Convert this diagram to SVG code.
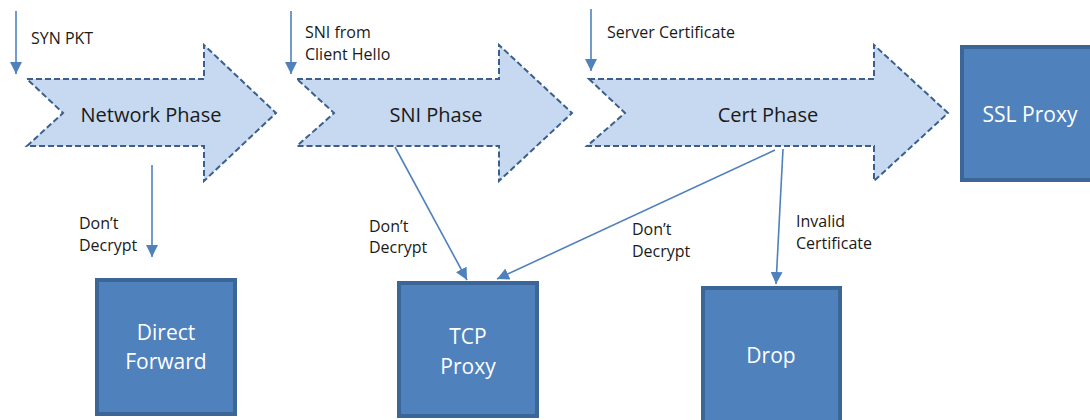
<svg xmlns="http://www.w3.org/2000/svg" width="1090" height="420" viewBox="0 0 1090 420">
<style>
.phase{fill:#C6D9F1;stroke:#3B5F8C;stroke-width:2;stroke-dasharray:6 3}
.box{fill:#4F81BD;stroke:#3D6698;stroke-width:4}
.pl{font-family:"Open Sans","Liberation Sans",sans-serif;font-size:20px;fill:#1a1a1a;text-anchor:middle}
.bl{font-family:"Open Sans","Liberation Sans",sans-serif;font-size:21px;fill:#ffffff;text-anchor:middle}
.lb{font-family:"Open Sans","Liberation Sans",sans-serif;font-size:16px;fill:#1a1a1a}
.c{stroke:#4F81BD;stroke-width:1.6;fill:none}
</style>
<defs>
<marker id="ah" viewBox="0 0 12 12" refX="12" refY="6" markerWidth="12" markerHeight="12" markerUnits="userSpaceOnUse" orient="auto">
<path d="M0,0 L12,6 L0,12 Z" fill="#4F81BD"/>
</marker>
</defs>
<rect width="1090" height="420" fill="#ffffff"/>
<g id="network-phase">
<path class="phase" d="M27,79 L204,79 L204,45 L276,113 L204,181 L204,146 L27,146 L63,113 Z"/>
<text class="pl" x="151" y="122">Network Phase</text>
</g>
<g id="sni-phase">
<path class="phase" d="M297,79 L499,79 L499,45 L572,113 L499,181 L499,146 L297,146 L334,113 Z"/>
<text class="pl" x="436" y="122">SNI Phase</text>
</g>
<g id="cert-phase">
<path class="phase" d="M589,79 L874,79 L874,45 L948,113 L874,181 L874,146 L587,146 L625,113 Z"/>
<text class="pl" x="768" y="122">Cert Phase</text>
</g>
<g id="ssl-proxy">
<rect class="box" x="962" y="47" width="140" height="133"/>
<text class="bl" x="1030" y="122">SSL Proxy</text>
</g>
<g id="direct-forward">
<rect class="box" x="97" y="280" width="138" height="134"/>
<text class="bl" x="166" y="340">Direct</text>
<text class="bl" x="166" y="369">Forward</text>
</g>
<g id="tcp-proxy">
<rect class="box" x="399" y="283" width="138" height="133"/>
<text class="bl" x="468" y="344">TCP</text>
<text class="bl" x="468" y="374">Proxy</text>
</g>
<g id="drop">
<rect class="box" x="703" y="288" width="137" height="134"/>
<text class="bl" x="771" y="363">Drop</text>
</g>
<g id="connectors">
<line class="c" x1="16" y1="11" x2="16" y2="74" marker-end="url(#ah)"/>
<line class="c" x1="291" y1="11" x2="291" y2="74" marker-end="url(#ah)"/>
<line class="c" x1="591" y1="9" x2="591" y2="71" marker-end="url(#ah)"/>
<line class="c" x1="152" y1="165" x2="152" y2="257" marker-end="url(#ah)"/>
<line class="c" x1="395" y1="147" x2="467" y2="280" marker-end="url(#ah)"/>
<line class="c" x1="775" y1="150" x2="497" y2="279" marker-end="url(#ah)"/>
<line class="c" x1="783" y1="149" x2="776" y2="284" marker-end="url(#ah)"/>
</g>
<g id="labels">
<text class="lb" x="31" y="44">SYN PKT</text>
<text class="lb" x="305" y="38">SNI from</text>
<text class="lb" x="305" y="60">Client Hello</text>
<text class="lb" x="607" y="38">Server Certificate</text>
<text class="lb" x="79" y="229">Don’t</text>
<text class="lb" x="79" y="251">Decrypt</text>
<text class="lb" x="369" y="232">Don’t</text>
<text class="lb" x="369" y="253">Decrypt</text>
<text class="lb" x="632" y="235">Don’t</text>
<text class="lb" x="632" y="257">Decrypt</text>
<text class="lb" x="796" y="227">Invalid</text>
<text class="lb" x="796" y="249">Certificate</text>
</g>
</svg>
